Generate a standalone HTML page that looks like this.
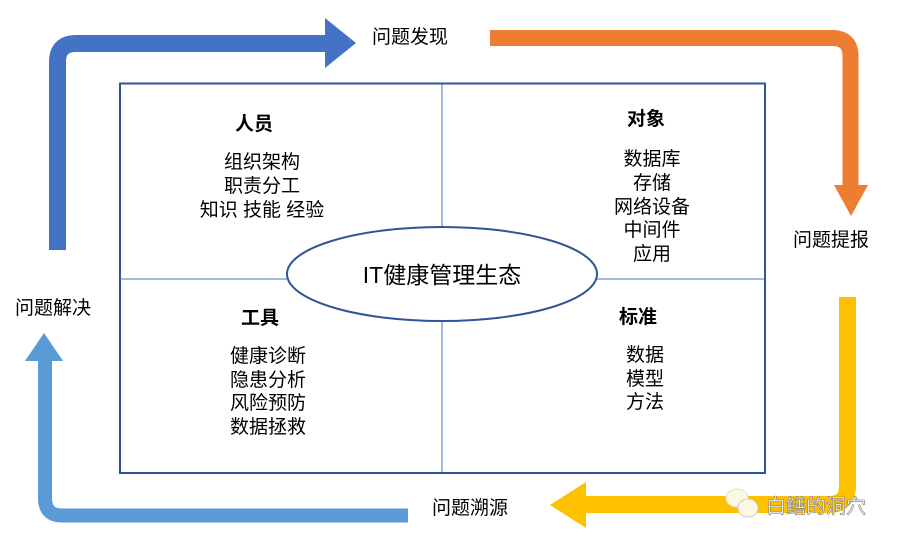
<!DOCTYPE html>
<html><head><meta charset="utf-8"><style>
body{margin:0;background:#fff;width:903px;height:545px;overflow:hidden;font-family:"Liberation Sans","Noto Sans CJK SC",sans-serif;}
svg text{font-family:"Liberation Sans","Noto Sans CJK SC",sans-serif;}
</style></head><body>
<svg width="903" height="545" viewBox="0 0 903 545" xmlns="http://www.w3.org/2000/svg">
<path d="M57.5 250 V62 Q57.5 43.5 76 43.5 H326" fill="none" stroke="#4472C4" stroke-width="17"/>
<polygon points="325,18 356,43 325,68" fill="#4472C4"/>
<path d="M490 38 H832 Q850.5 38 850.5 56 V186" fill="none" stroke="#ED7D31" stroke-width="16"/>
<polygon points="834,185 868,185 851,216" fill="#ED7D31"/>
<path d="M847.5 297 V486 Q847.5 504.5 829 504.5 H584" fill="none" stroke="#FFC000" stroke-width="17"/>
<polygon points="586,482 586,528 550,505" fill="#FFC000"/>
<path d="M408 515.5 H62 Q45 515.5 45 498 V358" fill="none" stroke="#5B9BD5" stroke-width="14"/>
<polygon points="25,361 63,361 44,333" fill="#5B9BD5"/>
<rect x="120" y="83.5" width="645" height="389.5" fill="#fff" stroke="#2F5597" stroke-width="2"/>
<line x1="442" y1="84" x2="442" y2="473" stroke="#4472C4" stroke-width="1"/>
<line x1="120" y1="279" x2="765" y2="279" stroke="#4472C4" stroke-width="1"/>
<ellipse cx="442" cy="274" rx="155" ry="47" fill="#fff" stroke="#2F5597" stroke-width="2"/>
<text x="442" y="283" font-size="23" text-anchor="middle" fill="#000">IT健康管理生态</text>
<g font-size="19" fill="#000">
<text x="372" y="43">问题发现</text>
<text x="793" y="246">问题提报</text>
<text x="432" y="514">问题溯源</text>
<text x="15" y="314">问题解决</text>
</g>
<g font-size="19" text-anchor="middle" fill="#000">
<text x="254" y="130" font-weight="bold">人员</text>
<text x="262" y="168">组织架构</text>
<text x="262" y="192">职责分工</text>
<text x="262" y="216">知识 技能 经验</text>
<text x="646" y="125" font-weight="bold">对象</text>
<text x="652" y="165">数据库</text>
<text x="652" y="189">存储</text>
<text x="652" y="213">网络设备</text>
<text x="652" y="236">中间件</text>
<text x="652" y="260">应用</text>
<text x="260" y="324" font-weight="bold">工具</text>
<text x="268" y="362">健康诊断</text>
<text x="268" y="386">隐患分析</text>
<text x="268" y="409">风险预防</text>
<text x="268" y="433">数据拯救</text>
<text x="638" y="323" font-weight="bold">标准</text>
<text x="645" y="361">数据</text>
<text x="645" y="385">模型</text>
<text x="645" y="408">方法</text>
</g>
<ellipse cx="737" cy="498" rx="11" ry="9" fill="#fff8e0" stroke="#ddd"/>
<ellipse cx="748" cy="508" rx="10" ry="9" fill="#fff8e0" stroke="#ccc"/>
<text x="766" y="513" font-size="20" fill="#fff" stroke="#777" stroke-width="0.6">白鳝的洞穴</text>
</svg>
</body></html>
